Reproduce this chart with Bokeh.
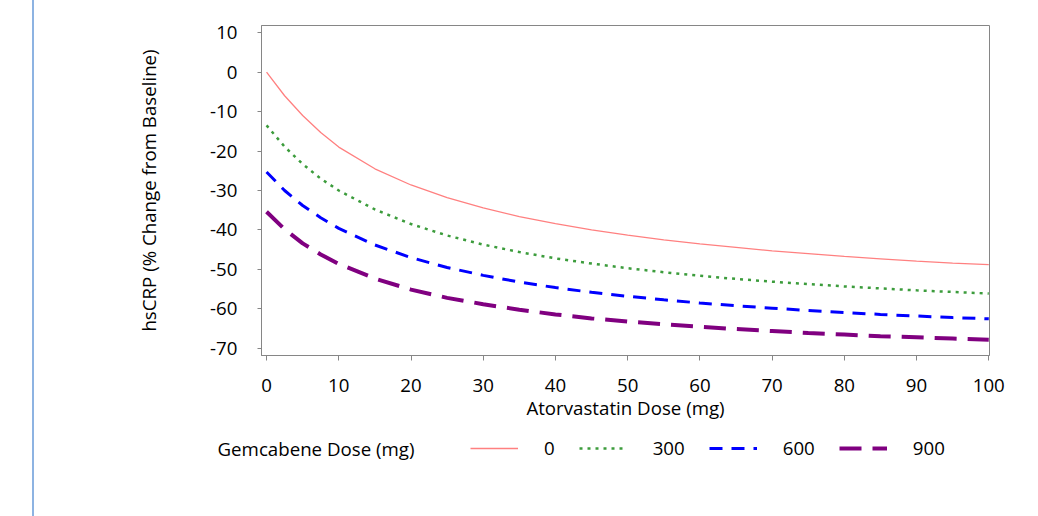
from bokeh.plotting import figure
from bokeh.models import Legend, LegendItem, FixedTicker, Range1d, Div, PrintfTickFormatter
from bokeh.layouts import row, column
from bokeh.embed import file_html
from bokeh.resources import INLINE

# Atorvastatin dose (mg)
atorva = [0, 2.5, 5, 7.5, 10, 15, 20, 25, 30, 35, 40, 45, 50, 55, 60, 65, 70, 75, 80, 85, 90, 95, 100]
# hsCRP % change from baseline, by gemcabene dose
gem_0 = [0.0, -6.0, -11.0, -15.3, -19.0, -24.5, -28.6, -31.8, -34.4, -36.6, -38.4, -40.0, -41.3,
         -42.5, -43.5, -44.4, -45.3, -46.0, -46.7, -47.3, -47.9, -48.4, -48.8]
gem_300 = [-13.5, -18.9, -23.3, -27.0, -30.0, -34.8, -38.5, -41.4, -43.7, -45.6, -47.2, -48.5, -49.7,
           -50.7, -51.6, -52.4, -53.1, -53.7, -54.3, -54.8, -55.3, -55.7, -56.1]
gem_600 = [-25.3, -30.0, -33.8, -36.9, -39.6, -43.8, -47.0, -49.5, -51.5, -53.2, -54.6, -55.8, -56.8,
           -57.7, -58.5, -59.2, -59.8, -60.4, -60.9, -61.4, -61.8, -62.2, -62.5]
gem_900 = [-35.4, -39.8, -43.4, -46.2, -48.6, -52.3, -55.1, -57.2, -58.8, -60.2, -61.4, -62.4, -63.2,
           -63.9, -64.5, -65.1, -65.6, -66.1, -66.5, -66.9, -67.2, -67.5, -67.8]

series = [gem_0, gem_300, gem_600, gem_900]
series_labels = ["0", "300", "600", "900"]
legend_title = "Gemcabene Dose (mg)"
x_title = "Atorvastatin Dose (mg)"
y_title = "hsCRP (% Change from Baseline)"
x_ticks = [0, 10, 20, 30, 40, 50, 60, 70, 80, 90, 100]
y_ticks = [-70, -60, -50, -40, -30, -20, -10, 0, 10]

styles = [
    dict(line_color="#ff8080", line_width=1.3, line_dash="solid"),
    dict(line_color="#3c9c3c", line_width=2.5, line_dash="3 5"),
    dict(line_color="#0000ff", line_width=3, line_dash="13 9"),
    dict(line_color="#800080", line_width=4, line_dash="22 11"),
]

FONT = "Open Sans"
FS = "18.7px"
W = 985

p = figure(width=W, height=430, output_backend="svg", toolbar_location=None,
           x_range=Range1d(-0.7, 100.1), y_range=Range1d(-71.8, 11.8),
           min_border_left=222, min_border_right=35, min_border_top=25, min_border_bottom=75)
p.grid.visible = False
p.outline_line_color = "#868686"
p.outline_line_width = 1
p.background_fill_color = "white"
p.border_fill_color = "white"

for ax in (p.xaxis[0], p.yaxis[0]):
    ax.axis_line_color = "#868686"
    ax.major_tick_line_color = "#868686"
    ax.minor_tick_line_color = None
    ax.major_tick_in = 0
    ax.major_label_text_font = FONT
    ax.major_label_text_font_size = FS
    ax.major_label_text_color = "black"
    ax.axis_label_text_font = FONT
    ax.axis_label_text_font_size = FS
    ax.axis_label_text_font_style = "normal"
    ax.axis_label_text_color = "black"
    ax.formatter = PrintfTickFormatter(format="%d")

p.xaxis[0].ticker = FixedTicker(ticks=x_ticks)
p.yaxis[0].ticker = FixedTicker(ticks=y_ticks)
p.xaxis[0].major_tick_out = 5
p.yaxis[0].major_tick_out = 4
p.xaxis[0].major_label_standoff = 18
p.yaxis[0].major_label_standoff = 20
p.xaxis[0].axis_label = x_title
p.yaxis[0].axis_label = y_title
p.xaxis[0].axis_label_standoff = 0
p.yaxis[0].axis_label_standoff = 46

for ys, st in zip(series, styles):
    p.line(atorva, ys, **st)

# legend strip below the chart (frame aligned with the chart's frame)
lf = figure(width=W, height=70, output_backend="svg", toolbar_location=None,
            x_range=Range1d(0, 1), y_range=Range1d(1000, 1001),
            min_border_left=0, min_border_right=0, min_border_top=0, min_border_bottom=34)
lf.xaxis.visible = False
lf.grid.visible = False
lf.outline_line_color = None
lf.border_fill_color = "white"
lf.background_fill_color = "white"

# legend title drawn as a horizontal axis label on the left of the strip
ya = lf.yaxis[0]
ya.ticker = FixedTicker(ticks=[])
ya.major_tick_out = 0
ya.major_tick_in = 0
ya.minor_tick_line_color = None
ya.major_tick_line_color = None
ya.axis_line_color = None
ya.major_label_text_font_size = "0px"
ya.major_label_standoff = 0
ya.axis_label = legend_title
ya.axis_label_orientation = "horizontal"
ya.axis_label_standoff = -153
ya.axis_label_text_font = FONT
ya.axis_label_text_font_size = FS
ya.axis_label_text_font_style = "normal"
ya.axis_label_text_color = "black"

lrs = [lf.line(atorva, ys, **st) for ys, st in zip(series, styles)]

leg = Legend(items=[LegendItem(label=lab, renderers=[r]) for lab, r in zip(series_labels, lrs)],
             location=(209, 6), orientation="horizontal")
leg.label_text_font = FONT
leg.label_text_font_size = FS
leg.label_text_color = "black"
leg.border_line_color = None
leg.background_fill_alpha = 0
leg.padding = 0
leg.margin = 0
leg.label_width = 0
leg.glyph_height = 20
leg.label_height = 20
leg.glyph_width = 48
leg.label_standoff = 26
leg.spacing = 24
lf.add_layout(leg)

side = Div(text='<div style="position:relative;top:-8px;width:2px;height:524px;'
                'background:#8db3e2;margin-left:27px"></div>',
           width=29, height=500)

layout = row(side, column(p, lf))
open("out.html", "w").write(file_html(layout, INLINE))
